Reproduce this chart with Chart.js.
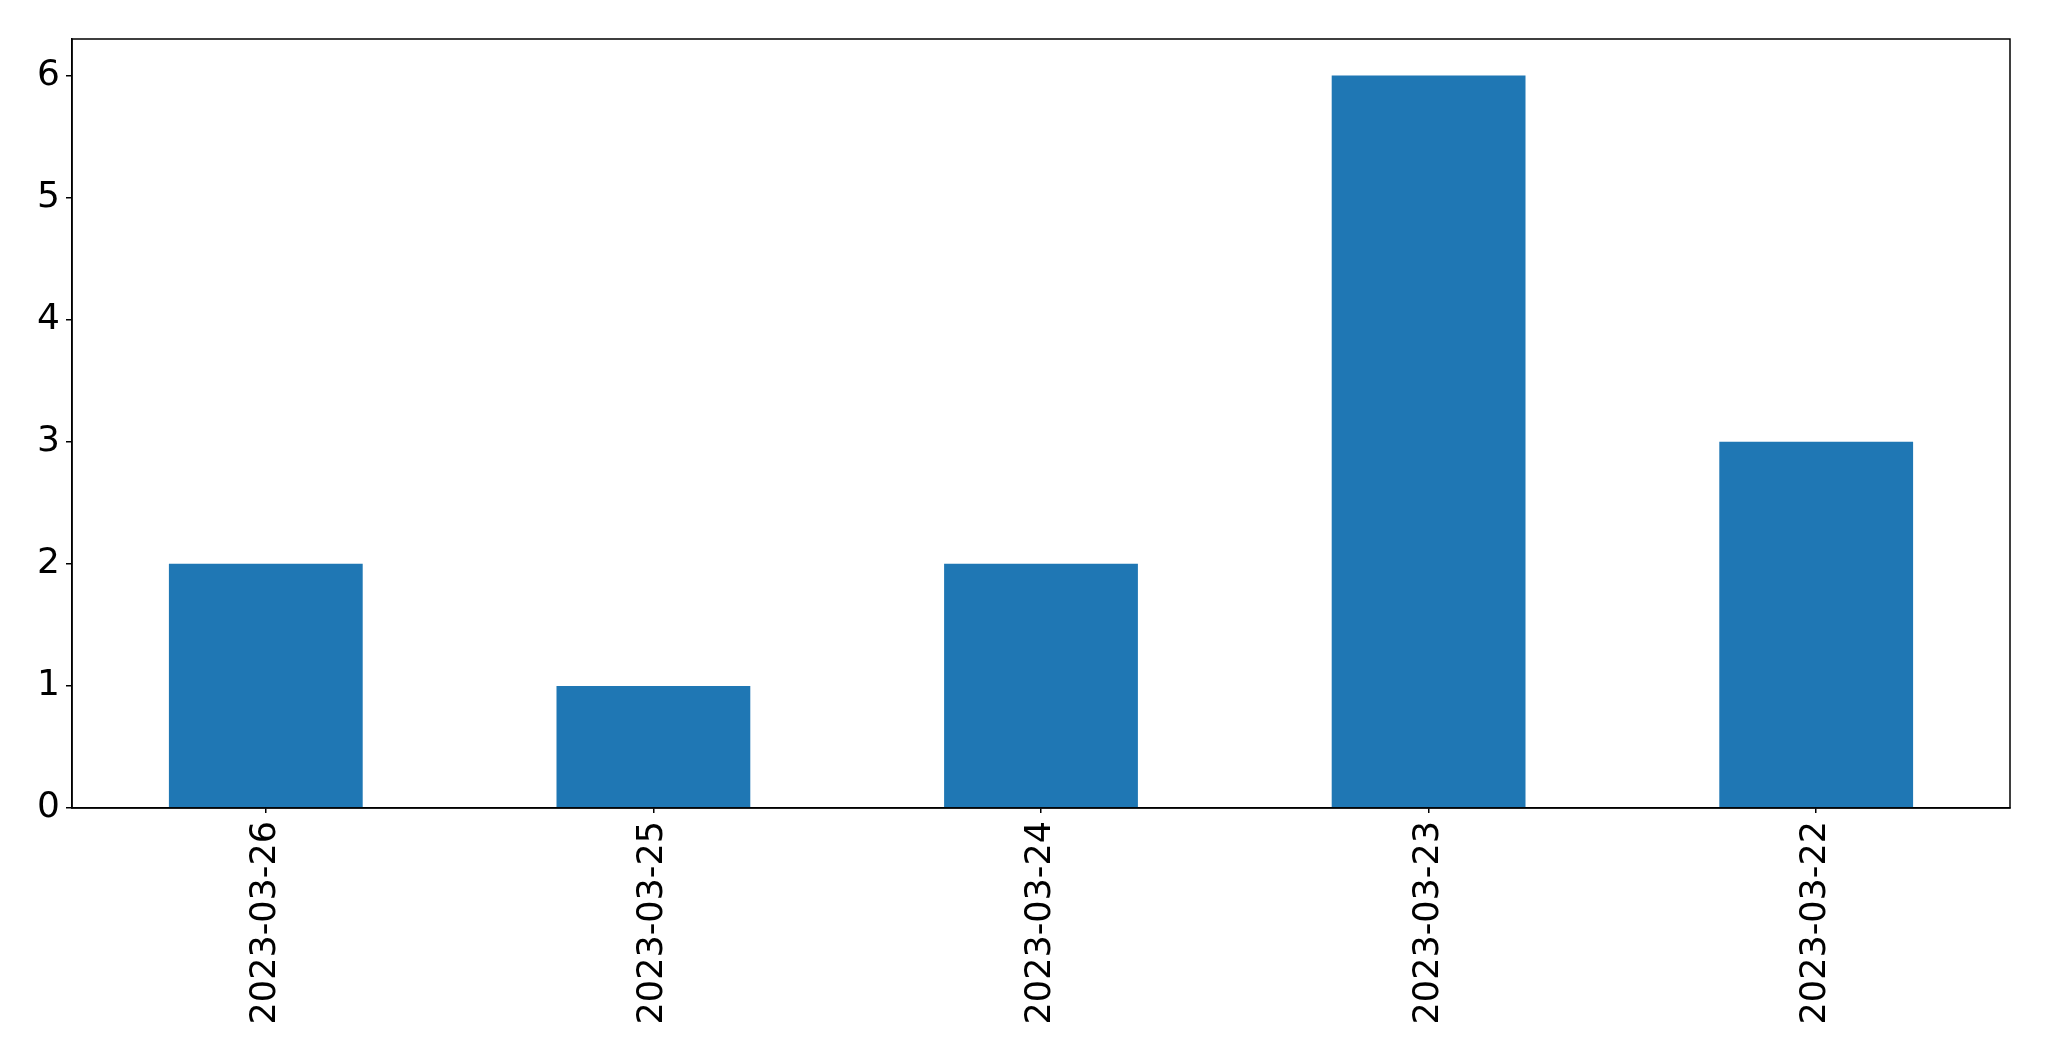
<!DOCTYPE html>
<html lang="en">
<head>
  <meta charset="UTF-8" />
  <title>Counts by date</title>
  <script src="https://cdn.jsdelivr.net/npm/chart.js"></script>
  <style>
    html, body {
      margin: 0;
      padding: 0;
      background: #fff;
    }
    #wrap {
      width: 2049px;
      height: 1061px;
    }
  </style>
</head>
<body>
  <div id="wrap"><canvas id="barChart" width="2049" height="1061"></canvas></div>

  <script>
    const dates = ['2023-03-26', '2023-03-25', '2023-03-24', '2023-03-23', '2023-03-22'];
    const counts = [2, 1, 2, 6, 3];
    const yTicks = [0, 1, 2, 3, 4, 5, 6];

    // full black frame round the plot area, like the matplotlib axes box
    const frame = {
      id: 'frame',
      afterDraw(chart) {
        const a = chart.chartArea;
        const ctx = chart.ctx;
        ctx.save();
        ctx.strokeStyle = '#000';
        ctx.lineWidth = 1.5;
        ctx.strokeRect(a.left, a.top, a.right - a.left, a.bottom - a.top);
        ctx.restore();
      }
    };

    new Chart(document.getElementById('barChart').getContext('2d'), {
      type: 'bar',
      data: {
        labels: dates,
        datasets: [{
          data: counts,
          backgroundColor: '#1f77b4',
          borderWidth: 0,
          categoryPercentage: 0.5,
          barPercentage: 1.0
        }]
      },
      options: {
        responsive: false,
        animation: false,
        devicePixelRatio: 1,
        layout: { padding: { top: 39, right: 39, left: 0, bottom: 0 } },
        plugins: {
          legend: { display: false },
          tooltip: { enabled: false }
        },
        scales: {
          x: {
            grid: { offset: false, drawOnChartArea: false, drawTicks: true, tickLength: 5, color: '#000', lineWidth: 1.5 },
            border: { display: true, color: '#000', width: 1.5 },
            ticks: {
              color: '#000',
              font: { family: 'DejaVu Sans', size: 35 },
              minRotation: 90,
              maxRotation: 90,
              padding: 8
            },
            afterFit(axis) { axis.height = 253; }
          },
          y: {
            min: 0,
            max: 6.3,
            afterBuildTicks(axis) { axis.ticks = yTicks.map(v => ({ value: v })); },
            grid: { drawOnChartArea: false, drawTicks: true, tickLength: 6, color: '#000', lineWidth: 1.5 },
            border: { display: true, color: '#000', width: 1.5 },
            ticks: {
              color: '#000',
              font: { family: 'DejaVu Sans', size: 36 },
              padding: 6
            },
            afterFit(axis) { axis.width = 72; }
          }
        }
      },
      plugins: [frame]
    });
  </script>
</body>
</html>
